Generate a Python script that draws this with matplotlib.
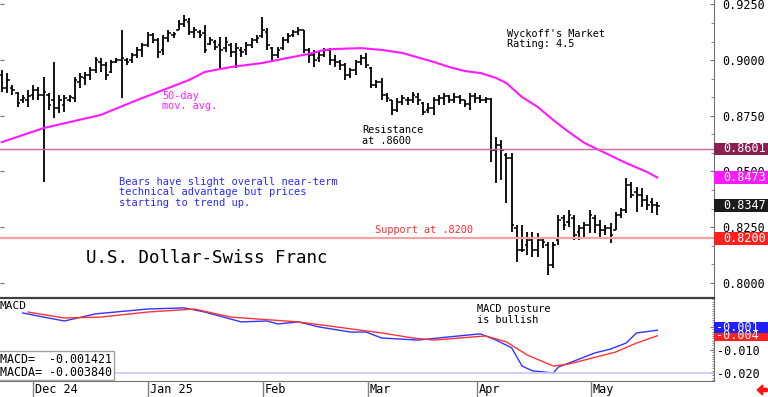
import matplotlib.pyplot as plt
import matplotlib.transforms as mtransforms
from matplotlib.patches import Rectangle, FancyArrow
from matplotlib.ticker import MultipleLocator, FormatStrFormatter

# daily bars, USD/CHF, late Nov 2024 .. May 2025
opens = [.8933, .8875, .8875, .8852, .8821, .8821, .8843, .8866, .8843, .8843,
         .8821, .8785, .8799, .8821, .8830, .8902, .8920, .8933, .8956, .8992,
         .8978, .8947, .8992, .9001, .9001, .9001, .9023, .9046, .9068, .9113,
         .9090, .9046, .9099, .9113, .9135, .9162, .9171, .9126, .9126, .9122,
         .9072, .9081, .9068, .9054, .9068, .9037, .9046, .9046, .9068, .9090,
         .9108, .9126, .9054, .9023, .9054, .9090, .9113, .9126, .9135, .9046,
         .9023, .9010, .9023, .9046, .9001, .8992, .8978, .8933, .8956, .8992,
         .9010, .8965, .8888, .8902, .8843, .8821, .8776, .8812, .8821, .8821,
         .8834, .8808, .8776, .8785, .8821, .8830, .8839, .8821, .8834, .8821,
         .8803, .8839, .8830, .8821, .8825, .8597, .8619, .8574, .8561, .8246,
         .8148, .8170, .8192, .8148, .8192, .8170, .8080, .8192, .8291, .8273,
         .8291, .8228, .8246, .8260, .8291, .8260, .8237, .8246, .8237, .8305,
         .8327, .8439, .8408, .8394, .8372, .8363, .8350]
highs = [.8956, .8942, .8888, .8857, .8843, .8866, .8888, .8879, .8924, .8852,
         .8992, .8843, .8843, .8843, .8924, .8942, .8947, .8969, .9014, .9010,
         .8992, .9001, .9010, .9135, .9010, .9032, .9059, .9077, .9126, .9122,
         .9099, .9113, .9135, .9126, .9180, .9203, .9189, .9149, .9135, .9158,
         .9104, .9090, .9104, .9104, .9077, .9077, .9059, .9081, .9099, .9113,
         .9194, .9144, .9059, .9059, .9104, .9122, .9135, .9149, .9135, .9054,
         .9046, .9037, .9054, .9054, .9023, .9001, .8987, .8965, .9001, .9023,
         .9032, .8969, .8911, .8920, .8852, .8821, .8830, .8843, .8834, .8857,
         .8852, .8812, .8808, .8834, .8843, .8852, .8843, .8852, .8843, .8821,
         .8852, .8852, .8843, .8834, .8830, .8655, .8641, .8583, .8583, .8260,
         .8260, .8228, .8228, .8224, .8201, .8183, .8183, .8305, .8305, .8327,
         .8305, .8260, .8273, .8327, .8305, .8282, .8260, .8269, .8318, .8336,
         .8471, .8453, .8430, .8426, .8394, .8381, .8363]
lows = [.8857, .8852, .8843, .8790, .8808, .8790, .8821, .8821, .8453, .8776,
        .8740, .8763, .8767, .8812, .8812, .8875, .8888, .8911, .8942, .8947,
        .8911, .8942, .8987, .8830, .8978, .8987, .9010, .9014, .9059, .9077,
        .9010, .9023, .9081, .9099, .9135, .9149, .9113, .9099, .9099, .9032,
        .9068, .9046, .8965, .9037, .9014, .8965, .9014, .9023, .9054, .9077,
        .9099, .9046, .9001, .9010, .9046, .9077, .9104, .9113, .9032, .8987,
        .8969, .8992, .9014, .8978, .8969, .8956, .8911, .8920, .8933, .8978,
        .8965, .8875, .8875, .8821, .8812, .8754, .8767, .8799, .8799, .8808,
        .8799, .8754, .8763, .8754, .8799, .8799, .8808, .8808, .8803, .8790,
        .8776, .8808, .8808, .8808, .8543, .8448, .8462, .8359, .8228, .8094,
        .8139, .8125, .8116, .8116, .8156, .8035, .8067, .8170, .8237, .8251,
        .8192, .8192, .8206, .8224, .8224, .8206, .8215, .8179, .8237, .8291,
        .8314, .8381, .8318, .8341, .8327, .8314, .8305]
closes = [.8875, .8911, .8866, .8808, .8830, .8839, .8866, .8843, .8857, .8799,
          .8785, .8821, .8830, .8834, .8911, .8924, .8933, .8956, .9001, .8978,
          .8933, .8992, .9001, .9010, .8992, .9023, .9046, .9068, .9113, .9090,
          .9037, .9099, .9122, .9117, .9162, .9180, .9126, .9135, .9113, .9046,
          .9090, .9059, .9046, .9081, .9037, .9054, .9037, .9068, .9090, .9099,
          .9135, .9068, .9023, .9046, .9090, .9108, .9126, .9135, .9046, .9023,
          .9001, .9023, .9046, .9001, .8992, .8978, .8933, .8956, .8992, .9010,
          .8978, .8888, .8902, .8843, .8830, .8776, .8812, .8830, .8821, .8843,
          .8821, .8767, .8785, .8821, .8830, .8839, .8821, .8834, .8821, .8803,
          .8839, .8830, .8821, .8825, .8597, .8619, .8597, .8561, .8260, .8148,
          .8148, .8192, .8148, .8192, .8183, .8080, .8170, .8282, .8260, .8305,
          .8215, .8246, .8260, .8305, .8260, .8237, .8246, .8215, .8305, .8327,
          .8439, .8394, .8394, .8372, .8350, .8350, .8347]

# 50-day moving average (read at a number of bars)
ma_idx = [0, 8, 19, 26, 30, 36, 39, 44, 50, 55, 59, 62, 64, 69, 73, 77, 83, 86, 89,
          92, 95, 97, 100, 103, 106, 109, 112, 116, 120, 124, 126]
ma_val = [.8632, .8695, .8754, .8821, .8857, .8911, .8947, .8969, .8987, .9010, .9028,
          .9046, .9050, .9054, .9046, .9032, .8992, .8969, .8951, .8942, .8920, .8897,
          .8834, .8790, .8731, .8677, .8628, .8583, .8538, .8498, .8473]

macd_idx = [4, 8, 12, 18, 28, 35, 39, 46, 51, 53, 57, 61, 67, 70, 73, 80, 86, 92, 95,
            98, 100, 102, 106, 107, 109, 114, 117, 120, 122, 126]
macd_val = [0.0061, 0.0043, 0.0026, 0.0057, 0.0078, 0.0083, 0.0065, 0.0022, 0.0026,
            0.0013, 0.0022, 0.0000, -0.0022, -0.0022, -0.0048, -0.0057, -0.0043,
            -0.0030, -0.0057, -0.0091, -0.0170, -0.0191, -0.0200, -0.0174, -0.0157,
            -0.0113, -0.0096, -0.0070, -0.0026, -0.001421]
macda_idx = [5, 12, 19, 28, 37, 44, 57, 73, 79, 83, 93, 97, 101, 106, 109, 118, 122, 126]
macda_val = [0.0065, 0.0039, 0.0043, 0.0065, 0.0078, 0.0043, 0.0022, -0.0026, -0.0048,
             -0.0057, -0.0039, -0.0065, -0.0122, -0.0170, -0.0161, -0.0109, -0.0070,
             -0.003840]

month_pos = [5.96, 28.1, 50.2, 70.4, 91.3, 113.3]
month_lbl = ['Dec 24', 'Jan 25', 'Feb', 'Mar', 'Apr', 'May']
price_ticks = [0.800, 0.825, 0.850, 0.875, 0.900, 0.925]
resistance = 0.8601
support = 0.8200

plt.rcParams['font.family'] = ['DejaVu Sans Mono', 'DejaVu Sans']

W, H = 768, 397
fig = plt.figure(figsize=(W / 100, H / 100), dpi=100)


def px_box(x0, y0, x1, y1):
    return [x0 / W, 1 - y1 / H, (x1 - x0) / W, (y1 - y0) / H]


ax = fig.add_axes(px_box(0, 0, 714, 298))
axm = fig.add_axes(px_box(0, 298, 714, 381))
axd = fig.add_axes(px_box(0, 381, 714, 397))
xlim = (-0.385, 136.9)

# ---- price panel
x = list(range(len(closes)))
ax.vlines(x, lows, highs, color='black', lw=1.3)
ax.hlines(opens, [i - 0.5 for i in x], x, color='black', lw=1.1)
ax.hlines(closes, x, [i + 0.5 for i in x], color='black', lw=1.1)
ax.plot(ma_idx, ma_val, color='#ff19ff', lw=1.5)
ax.axhline(resistance, color='#d0679c', lw=1.0)
ax.axhline(support, color='#f7a3a3', lw=1.6)

ax.set_xlim(*xlim)
ax.set_ylim(0.7932, 0.9270)
ax.set_xticks([])
ax.yaxis.tick_right()
ax.set_yticks(price_ticks)
ax.yaxis.set_major_formatter(FormatStrFormatter('%.4f'))
ax.yaxis.set_minor_locator(MultipleLocator(0.025 / 3))
ax.tick_params(axis='y', which='both', direction='in', right=True,
               labelleft=False, labelsize=8.5, pad=6, color='#707070')
ax.tick_params(axis='y', which='major', length=3, left=True)
ax.tick_params(axis='y', which='minor', length=2, left=False)
for s in ['top', 'left', 'bottom']:
    ax.spines[s].set_visible(False)
ax.spines['right'].set_color('#707070')

# coloured price boxes on the right
bt = mtransforms.blended_transform_factory(ax.transAxes, ax.transData)
box_h = 0.0058
for val, col in [(resistance, '#8c1f52'), (ma_val[-1], '#ff19ff'),
                 (closes[-1], '#1c1c1c'), (support, '#ff2020')]:
    ax.add_patch(Rectangle((1.0, val - box_h / 2), 54 / 714, box_h, transform=bt,
                           facecolor=col, edgecolor='none', clip_on=False, zorder=5))
    ax.text(723 / 714, val, '%.4f' % val, transform=bt, color='white', fontsize=8.5,
            va='center', ha='left', zorder=6, clip_on=False)

ax.text(97.1, 0.9140, "Wyckoff's Market\nRating: 4.5", fontsize=7.4, va='top',
        linespacing=1.05)
ax.text(30.8, 0.8862, "50-day\nmov. avg.", fontsize=7.4, color='#ff22ff', va='top',
        linespacing=1.05)
ax.text(69.2, 0.8708, "Resistance\nat .8600", fontsize=7.4, va='top', linespacing=1.05)
ax.text(22.5, 0.8475, "Bears have slight overall near-term\ntechnical advantage but prices\n"
        "starting to trend up.", fontsize=7.5, color='#2a2aff', va='top', linespacing=1.05)
ax.text(71.7, 0.8259, "Support at .8200", fontsize=7.4, color='#ff3030', va='top')
ax.text(16.2, 0.8152, "U.S. Dollar-Swiss Franc", fontsize=12.6, va='top')

# ---- MACD panel
axm.plot(macd_idx, macd_val, color='#3333ff', lw=1.0)
axm.plot(macda_idx, macda_val, color='#ff3333', lw=1.0)
axm.axhline(-0.020, color='#c8c8f4', lw=1.2)
axm.set_xlim(*xlim)
axm.set_ylim(-0.0235, 0.0126)
axm.set_xticks([])
axm.yaxis.tick_right()
axm.set_yticks([0.0, -0.010, -0.020])
axm.yaxis.set_major_formatter(FormatStrFormatter('%.3f'))
axm.yaxis.set_minor_locator(MultipleLocator(0.001))
axm.tick_params(axis='y', which='both', direction='in', labelsize=8.5, pad=2,
                color='#707070')
axm.tick_params(axis='y', which='major', length=3)
axm.tick_params(axis='y', which='minor', length=1.5)
axm.spines['left'].set_visible(False)
axm.spines['top'].set_color('#404040')
axm.spines['top'].set_linewidth(1.6)
axm.spines['right'].set_color('#707070')
axm.spines['bottom'].set_color('#707070')

bm = mtransforms.blended_transform_factory(axm.transAxes, axm.transData)
mbox_h = 0.0044
for val, col in [(macda_val[-1], '#ff2020'), (macd_val[-1] + 0.0012, '#2020ff')]:
    axm.add_patch(Rectangle((1.0, val - mbox_h / 2), 54 / 714, mbox_h, transform=bm,
                            facecolor=col, edgecolor='none', clip_on=False, zorder=5))
axm.text(716 / 714, macda_val[-1], '%.3f' % macda_val[-1], transform=bm, color='white',
         fontsize=8.5, va='center', ha='left', zorder=6, clip_on=False)
axm.text(716 / 714, macd_val[-1] + 0.0012, '%.3f' % macd_val[-1], transform=bm,
         color='white', fontsize=8.5, va='center', ha='left', zorder=7, clip_on=False)

axm.text(0.0, 0.96, 'MACD', transform=axm.transAxes, fontsize=8, va='top', ha='left')
axm.text(91.3, 0.0098, "MACD posture\nis bullish", fontsize=7.4, va='top', linespacing=1.05)
axm.text(0.0, 0.03, 'MACD=  %.6f\nMACDA= %.6f' % (macd_val[-1], macda_val[-1]),
         transform=axm.transAxes, fontsize=8.4, va='bottom', ha='left', linespacing=1.0,
         bbox=dict(boxstyle='square,pad=0.15', facecolor='white', edgecolor='#a0a0a0', lw=1))

# ---- date strip
axd.set_xlim(*xlim)
axd.set_ylim(0, 1)
axd.axis('off')
for p, lbl in zip(month_pos, month_lbl):
    axd.axvline(p, color='#808080', lw=1)
    axd.text(p + 0.3, 0.45, lbl, fontsize=8.6, va='center', ha='left')

fig.add_artist(FancyArrow(0.999, 1 - 390 / H, -0.006, 0, width=0.008, head_width=0.025,
                          head_length=0.007, length_includes_head=False,
                          transform=fig.transFigure, color='#ff1010'))

fig.savefig('out.png', dpi=100)
